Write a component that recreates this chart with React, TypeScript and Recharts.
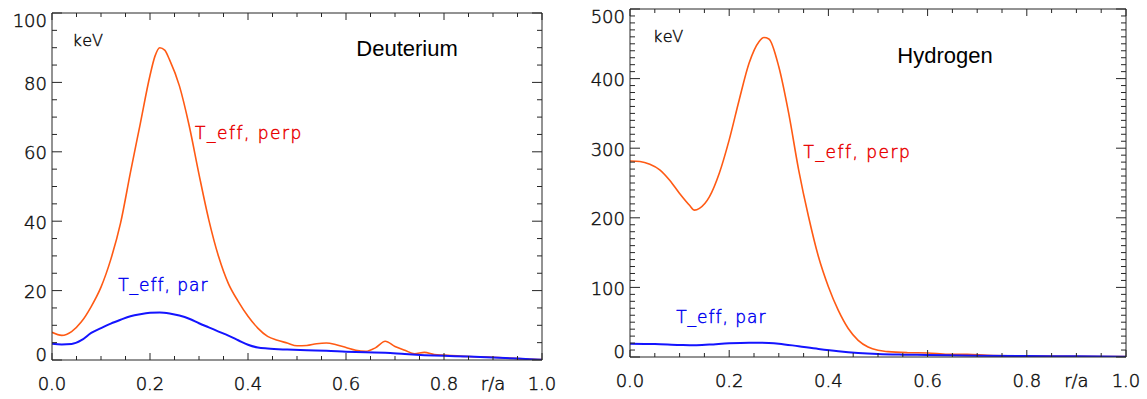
import React from "react";
import { LineChart, Line, XAxis, YAxis, ReferenceDot } from "recharts";

// Deuterium panel (keV vs r/a)
const deutPerpX = [0, 0.02, 0.04, 0.06, 0.08, 0.1, 0.12, 0.14, 0.16, 0.18, 0.2, 0.21, 0.22, 0.23, 0.24, 0.26, 0.28, 0.3, 0.32, 0.34, 0.36, 0.38, 0.4, 0.42, 0.44, 0.46, 0.48, 0.5, 0.52, 0.54, 0.56, 0.58, 0.6, 0.62, 0.64, 0.66, 0.68, 0.7, 0.72, 0.74, 0.76, 0.78, 0.8, 0.85, 0.9, 0.95, 1.0];
const deutPerpY = [8.0, 7.1, 8.2, 11, 15.4, 21, 29, 39.5, 54, 68, 82, 87.5, 90, 89.3, 86.5, 79, 67.5, 53.5, 40.4, 29.8, 22, 16.9, 12.6, 9.2, 6.8, 5.7, 4.9, 4.1, 4.2, 4.7, 4.9, 4.4, 3.6, 2.8, 2.5, 3.5, 5.4, 3.9, 2.8, 1.8, 2.2, 1.6, 1.4, 1.0, 0.8, 0.4, 0.1];
const deutParX = [0, 0.02, 0.04, 0.06, 0.08, 0.1, 0.12, 0.14, 0.16, 0.18, 0.2, 0.22, 0.24, 0.26, 0.28, 0.3, 0.32, 0.34, 0.36, 0.38, 0.4, 0.42, 0.44, 0.48, 0.52, 0.56, 0.6, 0.64, 0.68, 0.72, 0.76, 0.8, 0.85, 0.9, 0.95, 1.0];
const deutParY = [4.7, 4.5, 4.6, 5.7, 7.8, 9.2, 10.5, 11.6, 12.6, 13.2, 13.6, 13.7, 13.4, 12.8, 11.9, 10.6, 9.4, 8.2, 7.0, 5.7, 4.4, 3.6, 3.3, 3.0, 2.8, 2.7, 2.4, 2.2, 2.1, 1.7, 1.4, 1.2, 1.0, 0.7, 0.4, 0.1];

// Hydrogen panel
const hydPerpX = [0, 0.02, 0.04, 0.06, 0.08, 0.1, 0.12, 0.13, 0.14, 0.16, 0.18, 0.2, 0.22, 0.24, 0.26, 0.27, 0.28, 0.3, 0.32, 0.34, 0.36, 0.38, 0.4, 0.42, 0.44, 0.46, 0.48, 0.5, 0.52, 0.56, 0.6, 0.64, 0.68, 0.72, 0.8, 0.9, 1.0];
const hydPerpY = [281.7, 281, 277, 269, 254, 235, 218, 211, 213.5, 230, 264, 312, 369, 422, 453, 459, 457, 417, 350, 269, 201.5, 144, 101, 67, 41, 24, 14.4, 9.6, 7.7, 6.2, 5.8, 3.8, 3.8, 2.4, 1.4, 1.0, 0.5];
const hydParX = [0, 0.05, 0.1, 0.13, 0.16, 0.2, 0.24, 0.26, 0.28, 0.3, 0.34, 0.38, 0.42, 0.46, 0.5, 0.55, 0.6, 0.7, 0.8, 0.9, 1.0];
const hydParY = [19.2, 18.7, 17.3, 16.8, 17.8, 19.7, 20.6, 20.6, 20.2, 19.2, 15.4, 11.5, 8.2, 5.8, 4.3, 3.4, 2.9, 1.9, 1.4, 1.0, 0.5];

const xTicks = [0, 0.05, 0.1, 0.15, 0.2, 0.25, 0.3, 0.35, 0.4, 0.45, 0.5, 0.55, 0.6, 0.65, 0.7, 0.75, 0.8, 0.85, 0.9, 0.95, 1.0];
const deutYTicks = Array.from({ length: 21 }, (_, i) => i * 5);
const hydYTicks = Array.from({ length: 51 }, (_, i) => i * 10);

const AXIS = "#262626";
const PERP = "#ff5a14";
const PAR = "#1414ff";
const PERP_TXT = "#e80000";
const PAR_TXT = "#0000f0";
const HERSHEY = "'DejaVu Sans', sans-serif";
const LABEL_INK = "#111";

const zip = (xs: number[], ys: number[]) => xs.map((x, i) => ({ x, y: ys[i] }));
const onStep = (v: number, step: number) => Math.abs(v / step - Math.round(v / step)) < 1e-6;

// thin vector-font look: extra-light face with a hairline outline
const thin = (color: string) => ({ fontFamily: HERSHEY, fontWeight: 200, fill: color, stroke: color, strokeWidth: 0.45 });

function bottomTick(props: any) {
  const { x, y, payload } = props;
  const v = payload.value;
  const major = onStep(v, 0.2);
  return (
    <g>
      <line x1={x} x2={x} y1={y} y2={y - (major ? 7 : 4)} stroke={AXIS} />
      {major && (
        <text x={x} y={y + 23} textAnchor="middle" dominantBaseline="central" fontSize={18} {...thin(LABEL_INK)}>
          {v.toFixed(1)}
        </text>
      )}
      {Math.abs(v - 0.9) < 1e-6 && (
        <text x={x} y={y + 23} textAnchor="middle" dominantBaseline="central" fontSize={18} {...thin(LABEL_INK)}>
          r/a
        </text>
      )}
    </g>
  );
}

function topTick(props: any) {
  const { x, y, payload } = props;
  const major = onStep(payload.value, 0.2);
  return <line x1={x} x2={x} y1={y} y2={y + (major ? 7 : 4)} stroke={AXIS} />;
}

const leftTick = (step: number, max: number) => (props: any) => {
  const { x, y, payload } = props;
  const v = payload.value;
  const major = onStep(v, step);
  const dy = v === max ? 7 : v === 0 ? -6 : 1;
  return (
    <g>
      <line x1={x} x2={x + (major ? 10 : 5)} y1={y} y2={y} stroke={AXIS} />
      {major && (
        <text x={x - 5} y={y + dy} textAnchor="end" dominantBaseline="central" fontSize={18} {...thin(LABEL_INK)}>
          {v}
        </text>
      )}
    </g>
  );
};

const rightTick = (step: number) => (props: any) => {
  const { x, y, payload } = props;
  const major = onStep(payload.value, step);
  return <line x1={x} x2={x - (major ? 10 : 5)} y1={y} y2={y} stroke={AXIS} />;
};

type Note = { x: number; y: number; text: string; color: string; size: number; spacing: number; vector: boolean };

function note(n: Note) {
  const style = n.vector ? thin(n.color) : { fontFamily: "'Liberation Sans', Arial, sans-serif", fill: n.color };
  return {
    content: (p: any) => (
      <text x={p.viewBox.x} y={p.viewBox.y} fontSize={n.size} letterSpacing={n.spacing} {...style}>
        {n.text}
      </text>
    ),
  };
}

interface PanelProps {
  perp: { x: number; y: number }[];
  par: { x: number; y: number }[];
  yMax: number;
  yTicks: number[];
  yMajor: number;
  width: number;
  margin: { top: number; right: number; bottom: number; left: number };
  yAxisWidth: number;
  notes: Note[];
}

function Panel({ perp, par, yMax, yTicks, yMajor, width, margin, yAxisWidth, notes }: PanelProps) {
  return (
    <LineChart width={width} height={399} margin={margin}>
      <XAxis xAxisId="b" type="number" dataKey="x" domain={[0, 1]} ticks={xTicks} interval={0} height={30}
        tickSize={0} tickMargin={0} tickLine={false} axisLine={{ stroke: AXIS }} tick={bottomTick} allowDataOverflow />
      <XAxis xAxisId="t" orientation="top" type="number" dataKey="x" domain={[0, 1]} ticks={xTicks} interval={0} height={5}
        tickSize={0} tickMargin={0} tickLine={false} axisLine={{ stroke: AXIS }} tick={topTick} allowDataOverflow />
      <YAxis yAxisId="l" type="number" domain={[0, yMax]} ticks={yTicks} interval={0} width={yAxisWidth}
        tickSize={0} tickMargin={0} tickLine={false} axisLine={{ stroke: AXIS }} tick={leftTick(yMajor, yMax)} allowDataOverflow />
      <YAxis yAxisId="r" orientation="right" type="number" domain={[0, yMax]} ticks={yTicks} interval={0} width={8}
        tickSize={0} tickMargin={0} tickLine={false} axisLine={{ stroke: AXIS }} tick={rightTick(yMajor)} allowDataOverflow />
      <Line xAxisId="b" yAxisId="l" data={perp} dataKey="y" type="monotone" stroke={PERP} strokeWidth={1.6} dot={false} isAnimationActive={false} />
      <Line xAxisId="b" yAxisId="l" data={par} dataKey="y" type="monotone" stroke={PAR} strokeWidth={2} dot={false} isAnimationActive={false} />
      {notes.map((n, i) => (
        <ReferenceDot key={i} xAxisId="b" yAxisId="l" x={n.x} y={n.y} r={0} fill="none" stroke="none" label={note(n)} />
      ))}
    </LineChart>
  );
}

export default function App() {
  return (
    <div style={{ position: "absolute", left: 0, top: 0, width: 1147, height: 399, display: "flex", background: "#fff" }}>
      <Panel
        perp={zip(deutPerpX, deutPerpY)}
        par={zip(deutParX, deutParY)}
        yMax={100}
        yTicks={deutYTicks}
        yMajor={20}
        width={570}
        margin={{ top: 8, right: 20, bottom: 9, left: 0 }}
        yAxisWidth={52}
        notes={[
          { x: 0.042, y: 90.5, text: "keV", color: LABEL_INK, size: 16, spacing: 1, vector: true },
          { x: 0.621, y: 87.6, text: "Deuterium", color: "#000", size: 22, spacing: 0, vector: false },
          { x: 0.292, y: 63.6, text: "T_eff, perp", color: PERP_TXT, size: 17, spacing: 1.5, vector: true },
          { x: 0.135, y: 19.9, text: "T_eff, par", color: PAR_TXT, size: 17, spacing: 1, vector: true },
        ]}
      />
      <Panel
        perp={zip(hydPerpX, hydPerpY)}
        par={zip(hydParX, hydParY)}
        yMax={500}
        yTicks={hydYTicks}
        yMajor={100}
        width={577}
        margin={{ top: 4, right: 13, bottom: 12, left: 0 }}
        yAxisWidth={60}
        notes={[
          { x: 0.0465, y: 452, text: "keV", color: LABEL_INK, size: 16, spacing: 1, vector: true },
          { x: 0.539, y: 423, text: "Hydrogen", color: "#000", size: 22, spacing: 0, vector: false },
          { x: 0.35, y: 285.5, text: "T_eff, perp", color: PERP_TXT, size: 17, spacing: 1.5, vector: true },
          { x: 0.093, y: 49, text: "T_eff, par", color: PAR_TXT, size: 17, spacing: 1, vector: true },
        ]}
      />
    </div>
  );
}
